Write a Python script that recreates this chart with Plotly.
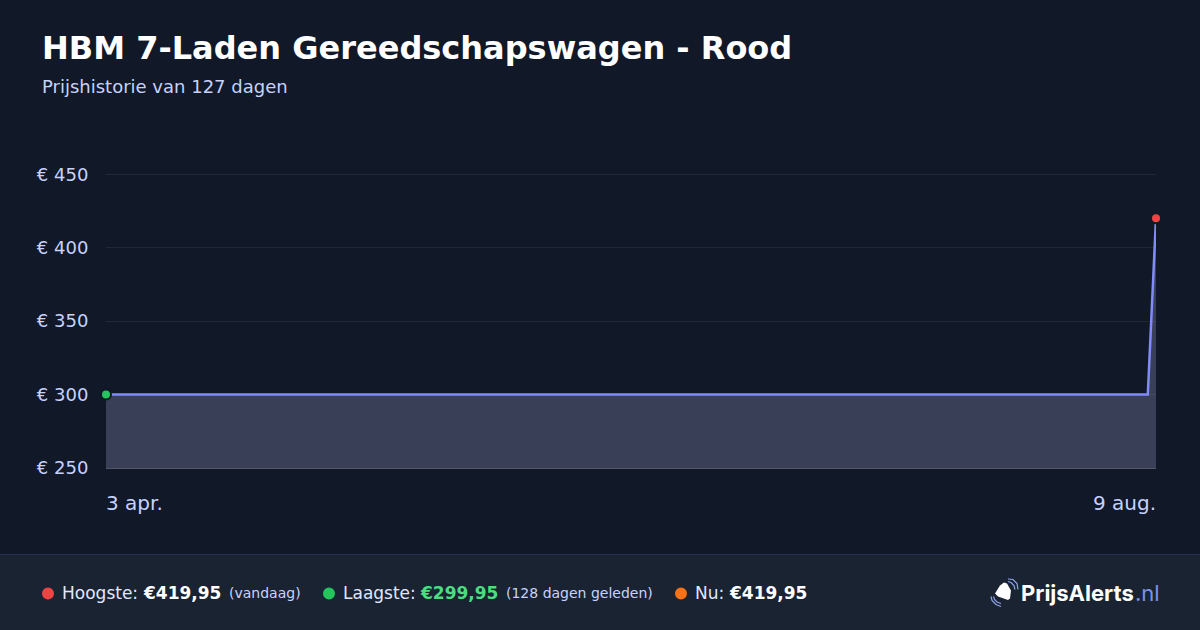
import plotly.graph_objects as go

dates = ["2025-04-03", "2025-08-08", "2025-08-09"]
prices = [299.95, 299.95, 419.95]
y_ticks = [250, 300, 350, 400, 450]
y_labels = ["€ 250", "€ 300", "€ 350", "€ 400", "€ 450"]
y_top = 450.82
title = "HBM 7-Laden Gereedschapswagen - Rood"
subtitle = "Prijshistorie van 127 dagen"
x_labels = ["3 apr.", "9 aug."]

W, H = 1200, 630
L, R, T, B = 106, 1156, 172.8, 467.6
BG = "#111827"
FOOT = "#1a2332"
LAB = "#c7d2fe"
FONT = "DejaVu Sans"

def px(x):
    return (x - L) / (R - L)

def py(y):
    return (B - y) / (B - T)

fig = go.Figure()
fig.add_trace(go.Scatter(x=dates, y=prices, mode="lines", fill="tozeroy",
                         fillcolor="rgba(185,180,235,0.25)",
                         line=dict(color="#818cf8", width=2.5, shape="linear"),
                         hoverinfo="skip", showlegend=False))
for i, col in ((0, "#22c55e"), (-1, "#ef4444")):
    fig.add_trace(go.Scatter(x=[dates[i]], y=[prices[i]], mode="markers", cliponaxis=False,
                             marker=dict(size=10, color=col, line=dict(color=BG, width=2)),
                             hoverinfo="skip", showlegend=False))

shapes = [
    dict(type="rect", xref="paper", yref="paper", x0=px(0), x1=px(W), y0=py(632), y1=py(554.6),
         fillcolor=FOOT, line_width=0, layer="below"),
    dict(type="rect", xref="paper", yref="paper", x0=px(0), x1=px(W), y0=py(554.6), y1=py(553.6),
         fillcolor="#252f50", line_width=0, layer="below"),
]
for cx, col in ((48, "#ef4444"), (329, "#22c55e"), (681, "#f97316")):
    shapes.append(dict(type="circle", xref="paper", yref="paper",
                       x0=px(cx - 6), x1=px(cx + 6), y0=py(599), y1=py(587),
                       fillcolor=col, line_width=0))

# logo: tag icon and signal arcs
def path(points):
    return "M " + " L ".join(f"{px(a)} {py(b)}" for a, b in points) + " Z"

shapes.append(dict(type="path", xref="paper", yref="paper",
                   path=path([(1000, 585), (1004, 582), (1007, 583), (1011, 590), (1010, 598),
                              (1008, 599.5), (998, 596), (995, 593)]),
                   fillcolor="#ffffff", line_width=0))
def arc(points):
    return "M " + " L ".join(f"{px(a)} {py(b)}" for a, b in points)
for pts in ([(1008, 581), (1011, 582), (1014, 585), (1015, 589)],
            [(1008, 578.5), (1013, 579), (1017, 583), (1018, 589)],
            [(991, 596), (992, 600), (996, 604), (1001, 606)],
            [(993.5, 596), (994.5, 599), (997, 601.5), (1001, 603)]):
    shapes.append(dict(type="path", xref="paper", yref="paper", path=arc(pts),
                       line=dict(color="#8fa5ea", width=1.2)))

def text(x, y, s, size, color, anchor="left", family=FONT):
    return dict(xref="paper", yref="paper", x=px(x), y=py(y), text=s, showarrow=False,
                xanchor=anchor, yanchor="middle", align=anchor,
                font=dict(family=family, size=size, color=color))

annotations = [
    text(40, 48, f"<b>{title}</b>", 32, "#ffffff"),
    text(40, 86.5, subtitle, 18, LAB),
    text(103.5, 503, x_labels[0], 20, LAB),
    text(R + 2, 503, x_labels[1], 20, LAB, "right"),
    text(60, 593, "Hoogste:", 17, "#e0e7ff"),
    text(141, 593, "<b>€419,95</b>", 17, "#ffffff"),
    text(227, 593, "(vandaag)", 14, LAB),
    text(340.5, 593, "Laagste:", 17, "#e0e7ff"),
    text(418, 593, "<b>€299,95</b>", 17, "#4ade80"),
    text(504, 593, "(128 dagen geleden)", 14, LAB),
    text(693, 593, "Nu:", 17, "#e0e7ff"),
    text(727, 593, "<b>€419,95</b>", 17, "#ffffff"),
    text(1019, 593, "<b>PrijsAlerts</b>", 22, "#ffffff", family="Inter"),
    text(1133, 593, ".nl", 22, "#7c93e8", family="Inter"),
]

fig.update_layout(
    width=W, height=H, autosize=False,
    margin=dict(l=L, r=W - R, t=T, b=H - B, pad=0),
    paper_bgcolor=BG, plot_bgcolor=BG,
    font=dict(family=FONT, color=LAB),
    shapes=shapes, annotations=annotations, showlegend=False,
    xaxis=dict(type="date", range=[dates[0], dates[-1]], showgrid=False, showticklabels=False,
               ticks="", zeroline=False, showline=True, linecolor="rgba(255,255,255,0.27)", linewidth=1),
    yaxis=dict(range=[y_ticks[0], y_top], tickmode="array", tickvals=y_ticks, ticktext=y_labels,
               tickfont=dict(family=FONT, size=18, color=LAB), ticks="outside", ticklen=13,
               tickcolor="rgba(0,0,0,0)",
               gridcolor="rgba(255,255,255,0.07)", gridwidth=1, zeroline=False, showline=False),
)
fig.write_html("out.html", config=dict(displayModeBar=False),
               post_script="document.body.style.margin='0';document.body.style.background='#111827';")
